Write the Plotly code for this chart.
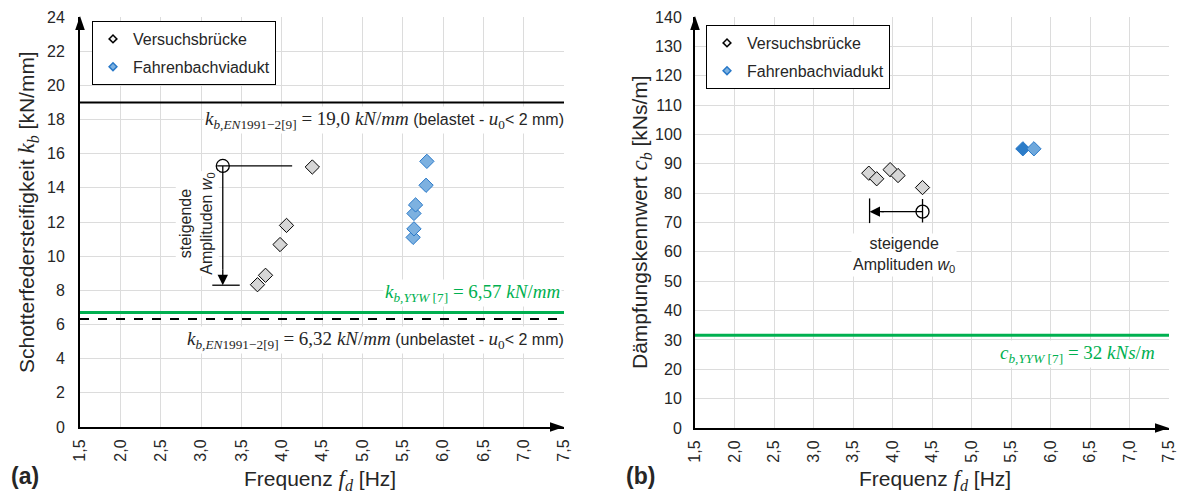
import plotly.graph_objects as go

# ---------------- data ----------------
# (a) Schotterfedersteifigkeit k_b [kN/mm]
freq_vb_k = [3.70, 3.80, 3.98, 4.06, 4.38]
kb_vb = [8.33, 8.88, 10.68, 11.80, 15.22]
freq_fb_k = [5.63, 5.64, 5.64, 5.66, 5.79, 5.80]
kb_fb = [11.1, 11.6, 12.5, 13.0, 14.15, 15.55]

# (b) Dämpfungskennwert c_b [kNs/m]
freq_vb_c = [3.70, 3.80, 3.97, 4.07, 4.38]
cb_vb = [86.8, 84.9, 88.0, 86.0, 81.9]
freq_fb_c = [5.65, 5.79]
cb_fb = [95.1, 95.1]

# reference lines
kb_en_loaded = 19.0
kb_en_unloaded = 6.32
kb_yyw = 6.7
cb_yyw = 31.6

# "steigende Amplituden" indicators
amp_k_start = (3.27, 15.28)
amp_k_end = 8.3
amp_k_hline = (3.20, 4.13)
amp_k_bar = (3.14, 3.48)
amp_c_start = (4.38, 73.7)
amp_c_end = 3.71
amp_c_bar = (69.8, 78.2)
amp_c_vline = (70.0, 78.0)

x_ticks = [1.5, 2.0, 2.5, 3.0, 3.5, 4.0, 4.5, 5.0, 5.5, 6.0, 6.5, 7.0, 7.5]
x_ticktext = ["1,5", "2,0", "2,5", "3,0", "3,5", "4,0", "4,5", "5,0", "5,5", "6,0", "6,5", "7,0", "7,5"]
k_ticks = list(range(0, 25, 2))
c_ticks = list(range(0, 141, 10))
x_range = [1.5, 7.5]
k_range = [0, 24]
c_range = [0, 140]

# ---------------- layout geometry ----------------
W, H = 1180, 496
L_px = dict(x0=80, x1=564, y0=427, y1=17)
R_px = dict(x0=695, x1=1169, y0=428, y1=17)

FONT = "Liberation Sans"
SERIF = "Liberation Serif"
TXT = "#262626"
GRID = "#DCDCDC"
GREEN = "#00B050"
GRAY_FILL = "#D6D6D6"
BLUE_FILL = "#7DB1E0"
BLUE_LINE = "#2878C8"


def m(s, size=None):
    st = "font-family:%s" % SERIF
    if size:
        st += ";font-size:%dpx" % size
    return '<span style="%s">%s</span>' % (st, s)


def pxx(v):
    return v / W


def pxy(v):
    return 1 - v / H


fig = go.Figure()

# reference lines (a)
fig.add_trace(go.Scatter(x=x_range, y=[kb_en_loaded] * 2, mode="lines",
                         line=dict(color="black", width=2), showlegend=False,
                         hoverinfo="skip", xaxis="x", yaxis="y"))
fig.add_trace(go.Scatter(x=x_range, y=[kb_en_unloaded] * 2, mode="lines",
                         line=dict(color="black", width=2, dash="dash"), showlegend=False,
                         hoverinfo="skip", xaxis="x", yaxis="y"))
fig.add_trace(go.Scatter(x=x_range, y=[kb_yyw] * 2, mode="lines",
                         line=dict(color=GREEN, width=3), showlegend=False,
                         hoverinfo="skip", xaxis="x", yaxis="y"))
# reference line (b)
fig.add_trace(go.Scatter(x=x_range, y=[cb_yyw] * 2, mode="lines",
                         line=dict(color=GREEN, width=3), showlegend=False,
                         hoverinfo="skip", xaxis="x2", yaxis="y2"))

# amplitude indicators (a)
fig.add_trace(go.Scatter(x=list(amp_k_hline), y=[amp_k_start[1]] * 2, mode="lines",
                         line=dict(color="black", width=1.3), showlegend=False,
                         hoverinfo="skip", xaxis="x", yaxis="y"))
fig.add_trace(go.Scatter(x=[amp_k_start[0]] * 2, y=[amp_k_start[1], amp_k_end + 0.9], mode="lines",
                         line=dict(color="black", width=1.3), showlegend=False,
                         hoverinfo="skip", xaxis="x", yaxis="y"))
fig.add_trace(go.Scatter(x=list(amp_k_bar), y=[amp_k_end] * 2, mode="lines",
                         line=dict(color="black", width=1.3), showlegend=False,
                         hoverinfo="skip", xaxis="x", yaxis="y"))
fig.add_trace(go.Scatter(x=[amp_k_start[0]], y=[amp_k_start[1]], mode="markers",
                         marker=dict(symbol="circle-open", size=13, color="black", line=dict(width=1.3)),
                         showlegend=False, hoverinfo="skip", xaxis="x", yaxis="y"))
# amplitude indicators (b)
fig.add_trace(go.Scatter(x=[amp_c_end + 0.15, amp_c_start[0]], y=[amp_c_start[1]] * 2, mode="lines",
                         line=dict(color="black", width=1.3), showlegend=False,
                         hoverinfo="skip", xaxis="x2", yaxis="y2"))
fig.add_trace(go.Scatter(x=[amp_c_end] * 2, y=list(amp_c_bar), mode="lines",
                         line=dict(color="black", width=1.3), showlegend=False,
                         hoverinfo="skip", xaxis="x2", yaxis="y2"))
fig.add_trace(go.Scatter(x=[amp_c_start[0]] * 2, y=list(amp_c_vline), mode="lines",
                         line=dict(color="black", width=1.3), showlegend=False,
                         hoverinfo="skip", xaxis="x2", yaxis="y2"))
fig.add_trace(go.Scatter(x=[amp_c_start[0]], y=[amp_c_start[1]], mode="markers",
                         marker=dict(symbol="circle-open", size=13, color="black", line=dict(width=1.3)),
                         showlegend=False, hoverinfo="skip", xaxis="x2", yaxis="y2"))

# data markers
fig.add_trace(go.Scatter(x=freq_vb_k, y=kb_vb, mode="markers", showlegend=False,
                         marker=dict(symbol="diamond", size=11, color=GRAY_FILL,
                                     line=dict(color="black", width=1)), xaxis="x", yaxis="y"))
fig.add_trace(go.Scatter(x=freq_fb_k, y=kb_fb, mode="markers", showlegend=False,
                         marker=dict(symbol="diamond", size=11, color=BLUE_FILL,
                                     line=dict(color=BLUE_LINE, width=1)), xaxis="x", yaxis="y"))
fig.add_trace(go.Scatter(x=freq_vb_c, y=cb_vb, mode="markers", showlegend=False,
                         marker=dict(symbol="diamond", size=11, color=GRAY_FILL,
                                     line=dict(color="black", width=1)), xaxis="x2", yaxis="y2"))
fig.add_trace(go.Scatter(x=freq_fb_c, y=cb_fb, mode="markers", showlegend=False,
                         marker=dict(symbol="diamond", size=11, color=["#2C7CC8", "#6FA8DC"],
                                     line=dict(color=BLUE_LINE, width=1)), xaxis="x2", yaxis="y2"))

# legend entries
for lg, xa, ya in (("legend", "x", "y"), ("legend2", "x2", "y2")):
    fig.add_trace(go.Scatter(x=[None], y=[None], mode="markers", name="Versuchsbrücke",
                             legend=lg, legendgroup="vb" + lg,
                             marker=dict(symbol="diamond", size=6, color="#F2F2F2",
                                         line=dict(color="black", width=1.5)), xaxis=xa, yaxis=ya))
    fig.add_trace(go.Scatter(x=[None], y=[None], mode="markers", name="Fahrenbachviadukt",
                             legend=lg, legendgroup="fb" + lg,
                             marker=dict(symbol="diamond", size=6, color=BLUE_FILL,
                                         line=dict(color=BLUE_LINE, width=1.5)), xaxis=xa, yaxis=ya))

axis_common = dict(showgrid=True, gridcolor=GRID, gridwidth=1, zeroline=False,
                   showline=True, linecolor="black", linewidth=2, ticks="",
                   automargin=False,
                   tickfont=dict(family=FONT, size=16, color=TXT))

legend_common = dict(bgcolor="white", bordercolor="black", borderwidth=1,
                     font=dict(family=FONT, size=16, color=TXT), xanchor="left", yanchor="top",
                     tracegroupgap=4, traceorder="grouped", itemclick=False)

fig.update_layout(
    width=W, height=H, margin=dict(l=0, r=0, t=0, b=0, pad=0), autosize=False,
    paper_bgcolor="white", plot_bgcolor="white",
    font=dict(family=FONT, color=TXT),
    separators=",.",
    xaxis=dict(domain=[pxx(L_px["x0"]), pxx(L_px["x1"])], range=x_range, anchor="y",
               tickvals=x_ticks, ticktext=x_ticktext, tickangle=-90, ticklabelstandoff=4,
               **axis_common),
    yaxis=dict(domain=[pxy(L_px["y0"]), pxy(L_px["y1"])], range=k_range, anchor="x",
               tickvals=k_ticks, ticklabelstandoff=10, **axis_common),
    xaxis2=dict(domain=[pxx(R_px["x0"]), pxx(R_px["x1"])], range=x_range, anchor="y2",
                tickvals=x_ticks, ticktext=x_ticktext, tickangle=-90, ticklabelstandoff=4,
                **axis_common),
    yaxis2=dict(domain=[pxy(R_px["y0"]), pxy(R_px["y1"])], range=c_range, anchor="x2",
                tickvals=c_ticks, ticklabelstandoff=8, **axis_common),
    legend=dict(x=pxx(92), y=pxy(21), **legend_common),
    legend2=dict(x=pxx(706), y=pxy(25), **legend_common),
)

C = dict(xanchor="center", yanchor="middle", showarrow=False)
ann = []
# axis titles
ann.append(dict(xref="paper", yref="paper", x=pxx(28), y=pxy(212), textangle=-90,
                text="Schotterfedersteifigkeit " + m("<i>k</i><sub><i>b</i></sub>", 23) + " [kN/mm]",
                font=dict(size=21, color=TXT), **C))
ann.append(dict(xref="paper", yref="paper", x=pxx(641), y=pxy(222), textangle=-90,
                text="Dämpfungskennwert " + m("<i>c</i><sub><i>b</i></sub>", 23) + " [kNs/m]",
                font=dict(size=21, color=TXT), **C))
ann.append(dict(xref="paper", yref="paper", x=pxx(320), y=pxy(480),
                text="Frequenz " + m("<i>f</i><sub><i>d</i></sub>", 23) + " [Hz]",
                font=dict(size=21, color=TXT), **C))
ann.append(dict(xref="paper", yref="paper", x=pxx(935), y=pxy(480),
                text="Frequenz " + m("<i>f</i><sub><i>d</i></sub>", 23) + " [Hz]",
                font=dict(size=21, color=TXT), **C))
ann.append(dict(xref="paper", yref="paper", x=pxx(25), y=pxy(476),
                text="<b>(a)</b>", font=dict(size=23, color=TXT), **C))
ann.append(dict(xref="paper", yref="paper", x=pxx(640), y=pxy(476),
                text="<b>(b)</b>", font=dict(size=23, color=TXT), **C))

# reference labels
R = dict(xanchor="right", yanchor="middle", showarrow=False, bgcolor="white")
ann.append(dict(xref="x", yref="y", x=7.5, xshift=2, y=17.95,
                text=m("<i>k</i><sub><i>b,EN</i>1991−2[9]</sub> = 19,0 <i>kN</i>/<i>mm</i>", 19)
                + " (belastet - " + m("<i>u</i><sub>0</sub>", 19) + "&lt; 2 mm)",
                font=dict(size=16, color=TXT), **R))
ann.append(dict(xref="x", yref="y", x=7.48, y=7.85,
                text=m("<i>k</i><sub><i>b,YYW</i> [7]</sub> = 6,57 <i>kN</i>/<i>mm</i>", 19),
                font=dict(size=16, color=GREEN), **R))
ann.append(dict(xref="x", yref="y", x=7.5, xshift=2, y=5.07,
                text=m("<i>k</i><sub><i>b,EN</i>1991−2[9]</sub> = 6,32 <i>kN</i>/<i>mm</i>", 19)
                + " (unbelastet - " + m("<i>u</i><sub>0</sub>", 19) + "&lt; 2 mm)",
                font=dict(size=16, color=TXT), **R))
ann.append(dict(xref="x2", yref="y2", x=7.35, y=25.1,
                text=m("<i>c</i><sub><i>b,YYW</i> [7]</sub> = 32 <i>kNs</i>/<i>m</i>", 19),
                font=dict(size=16, color=GREEN), **R))

# amplitude texts
ann.append(dict(xref="x", yref="y", x=2.95, y=11.9, textangle=-90,
                text="steigende<br>Amplituden <i>w</i><sub>0</sub>",
                bgcolor="white", font=dict(size=16, color=TXT), **C))
ann.append(dict(xref="x2", yref="y2", x=4.15, y=59,
                text="steigende<br>Amplituden <i>w</i><sub>0</sub>",
                bgcolor="white", font=dict(size=16, color=TXT), **C))

# amplitude arrowheads
ann.append(dict(xref="x", yref="y", axref="x", ayref="y", x=amp_k_start[0], y=amp_k_end,
                ax=amp_k_start[0], ay=amp_k_end + 1.0, text="", showarrow=True,
                arrowhead=2, arrowsize=1.6, arrowwidth=1.3, arrowcolor="black"))
ann.append(dict(xref="x2", yref="y2", axref="x2", ayref="y2", x=amp_c_end, y=amp_c_start[1],
                ax=amp_c_end + 0.2, ay=amp_c_start[1], text="", showarrow=True,
                arrowhead=2, arrowsize=1.6, arrowwidth=1.3, arrowcolor="black"))
fig.update_layout(annotations=ann)

# axis arrowheads (triangles)
shapes = []
for P in (L_px, R_px):
    tx, ty = P["x0"], P["y1"] - 1
    shapes.append(dict(type="path", xref="paper", yref="paper", fillcolor="black",
                       line=dict(color="black", width=0),
                       path="M %f,%f L %f,%f L %f,%f Z" % (pxx(tx), pxy(ty), pxx(tx - 4.8), pxy(ty + 14),
                                                         pxx(tx + 4.8), pxy(ty + 14))))
    rx, ry = P["x1"], P["y0"]
    shapes.append(dict(type="path", xref="paper", yref="paper", fillcolor="black",
                       line=dict(color="black", width=0),
                       path="M %f,%f L %f,%f L %f,%f Z" % (pxx(rx), pxy(ry), pxx(rx - 14), pxy(ry - 4.8),
                                                         pxx(rx - 14), pxy(ry + 4.8))))
fig.update_layout(shapes=shapes)

fig.write_html("out.html", config={"displayModeBar": False},
               post_script="document.body.style.margin='0';document.body.style.overflow='hidden';")
